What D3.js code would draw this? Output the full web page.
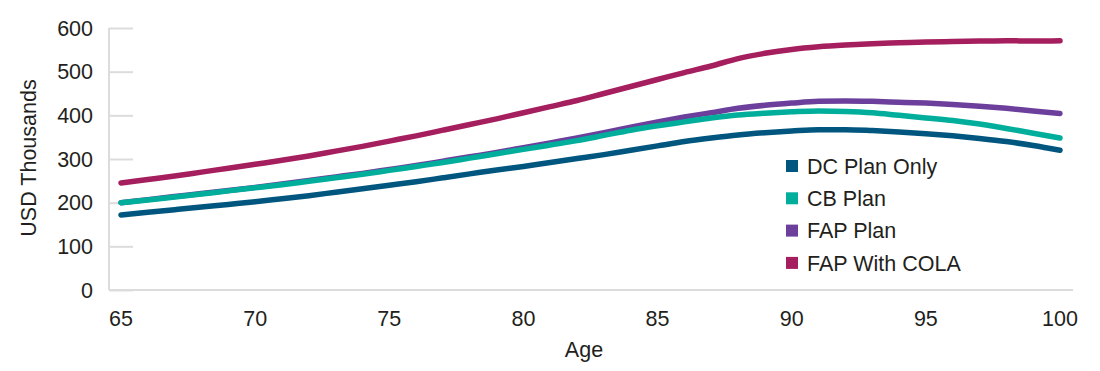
<!DOCTYPE html>
<html>
<head>
<meta charset="utf-8">
<script src="https://cdn.jsdelivr.net/npm/d3@7"></script>
<style>
  body { margin: 0; background: #fff; }
  text { font-family: "Liberation Sans", Arial, sans-serif; fill: #231f20; }
</style>
</head>
<body>
<div id="chart"></div>
<script>
// ages 65..100
const ages = d3.range(65, 101);

// values in USD thousands
const dcPlan = [172, 178, 184, 190, 196, 202, 209, 216, 224, 232, 240, 248, 257, 266, 275, 283, 292, 301, 310, 320, 330, 340, 348, 355, 360, 364, 367, 367, 365, 362, 358, 353, 347, 340, 331, 320];
const cbPlan = [200, 206, 213, 220, 227, 234, 241, 249, 257, 265, 274, 283, 292, 302, 312, 322, 332, 342, 354, 366, 376, 385, 394, 401, 405, 408, 410, 409, 406, 400, 394, 388, 380, 370, 359, 348];
const fapPlan = [200, 207, 214, 221, 228, 235, 243, 251, 259, 267, 276, 285, 295, 305, 315, 326, 337, 348, 360, 373, 385, 396, 406, 416, 423, 428, 432, 433, 432, 430, 428, 425, 421, 416, 410, 404];
const fapCola = [245, 253, 261, 270, 279, 288, 297, 307, 318, 329, 341, 353, 366, 379, 392, 406, 420, 434, 450, 466, 482, 498, 513, 530, 542, 551, 557, 561, 564, 566, 568, 569, 570, 571, 570, 571];

const seriesNames = ["DC Plan Only", "CB Plan", "FAP Plan", "FAP With COLA"];
const seriesColors = ["#00567f", "#00ae9b", "#6b3f9b", "#a51e5d"];
const yTicks = [0, 100, 200, 300, 400, 500, 600];
const xTicks = [65, 70, 75, 80, 85, 90, 95, 100];

const width = 1100, height = 371;
const fontSize = "21.5px";

const svg = d3.select("#chart").append("svg")
    .attr("width", width)
    .attr("height", height);

const x = d3.scaleLinear().domain([65, 100]).range([121, 1060]);
const y = d3.scaleLinear().domain([0, 600]).range([290, 28]);

const axisColor = "#dcdcdc";

// y axis: line with short inward ticks
const yAxis = svg.append("g").attr("transform", "translate(109,0)")
    .call(d3.axisRight(y).tickValues(yTicks).tickSize(24).tickFormat(""));
yAxis.select(".domain").attr("stroke", axisColor).attr("stroke-width", 2)
    .attr("d", `M0,${y(600)}V${y(0)}`);
yAxis.selectAll(".tick line").attr("stroke", axisColor).attr("stroke-width", 2);

// y labels
svg.append("g").selectAll("text")
    .data(yTicks)
    .join("text")
    .attr("x", 93)
    .attr("y", d => y(d))
    .attr("dy", "0.36em")
    .attr("text-anchor", "end")
    .style("font-size", fontSize)
    .text(d => d);

// x axis line
svg.append("line")
    .attr("x1", 109).attr("x2", 1073)
    .attr("y1", y(0)).attr("y2", y(0))
    .attr("stroke", axisColor).attr("stroke-width", 2);

// x labels
svg.append("g").selectAll("text")
    .data(xTicks)
    .join("text")
    .attr("x", d => x(d))
    .attr("y", 326)
    .attr("text-anchor", "middle")
    .style("font-size", fontSize)
    .text(d => d);

// axis titles
svg.append("text")
    .attr("x", 584).attr("y", 357)
    .attr("text-anchor", "middle")
    .style("font-size", fontSize)
    .text("Age");

svg.append("text")
    .attr("transform", "translate(36,158) rotate(-90)")
    .attr("text-anchor", "middle")
    .style("font-size", fontSize)
    .text("USD Thousands");

// lines
const line = d3.line()
    .x((d, i) => x(ages[i]))
    .y(d => y(d))
    .curve(d3.curveMonotoneX);

const allSeries = [dcPlan, cbPlan, fapPlan, fapCola];
const drawOrder = [3, 2, 1, 0];

svg.append("g").selectAll("path")
    .data(drawOrder)
    .join("path")
    .attr("d", i => line(allSeries[i]))
    .attr("fill", "none")
    .attr("stroke", i => seriesColors[i])
    .attr("stroke-width", 5.5)
    .attr("stroke-linecap", "round")
    .attr("stroke-linejoin", "round");

// legend
const legend = svg.append("g").attr("transform", "translate(786,166)");
const rows = legend.selectAll("g")
    .data(seriesNames)
    .join("g")
    .attr("transform", (d, i) => `translate(0,${i * 32.3})`);
rows.append("rect")
    .attr("x", 0).attr("y", -6)
    .attr("width", 12).attr("height", 12)
    .attr("fill", (d, i) => seriesColors[i]);
rows.append("text")
    .attr("x", 21).attr("y", 0)
    .attr("dy", "0.36em")
    .style("font-size", fontSize)
    .text(d => d);
</script>
</body>
</html>
